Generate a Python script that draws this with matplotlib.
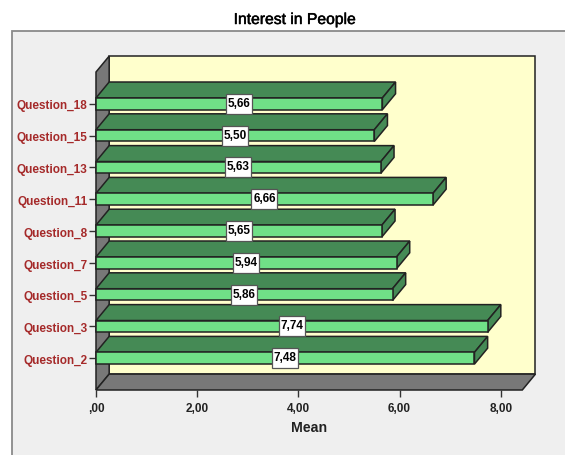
import matplotlib
matplotlib.use("Agg")
import matplotlib.pyplot as plt
import matplotlib.patheffects as pe
from matplotlib.patches import Rectangle
from matplotlib.transforms import ScaledTranslation

plt.rcParams['font.family'] = ['Liberation Sans', 'DejaVu Sans']

questions = ['Question_2', 'Question_3', 'Question_5', 'Question_7', 'Question_8',
             'Question_11', 'Question_13', 'Question_15', 'Question_18']
means = [7.48, 7.74, 5.86, 5.94, 5.65, 6.66, 5.63, 5.50, 5.66]
xticks = [0, 2, 4, 6, 8]
xticklabels = [',00', '2,00', '4,00', '6,00', '8,00']

W, H = 565, 455
EDGE = '#222222'
DX = 0.26   # depth of the 3d look, in data units
DY = 0.5
BAR_H = 0.37
BOX_W = 26 / 50.6   # value label box, 26x20 px
BOX_H = 20 / 31.8

fig = plt.figure(figsize=(W / 100, H / 100), dpi=100, facecolor='white')

# grey panel behind everything, runs off the bottom and right
fig.add_artist(Rectangle((11.5 / W, -0.05), 1.0, (H - 31) / H + 0.05, transform=fig.transFigure,
                         facecolor='#efefef', edgecolor='#8a8a8a', linewidth=1.3, zorder=-1))

# axes = the front plane of the box
ax = fig.add_axes([96 / W, (H - 390) / H, (522.3 - 96) / W, 318 / H])
ax.patch.set_visible(False)
xmax = (522.3 - 96) / 50.6
ax.set_xlim(0, xmax)
ax.set_ylim(0, 10)
for s in ax.spines.values():
    s.set_visible(False)


def poly(xs, ys, color, z):
    ax.fill(xs, ys, facecolor=color, edgecolor=EDGE, linewidth=1.1, zorder=z, clip_on=False)


# back wall, side wall, floor
poly([DX, xmax + DX, xmax + DX, DX], [DY, DY, 10 + DY, 10 + DY], '#ffffcc', 1)
poly([0, DX, DX, 0], [0, DY, 10 + DY, 10], '#787878', 1.1)
poly([0, xmax, xmax + DX, DX], [0, 0, DY, DY], '#787878', 1.2)

# bars, drawn from the top down so the lower ones overlap
for i in range(len(means) - 1, -1, -1):
    y = i + 1
    v = means[i]
    lo, hi = y - BAR_H / 2, y + BAR_H / 2
    z = 2 + (len(means) - i) * 0.1
    poly([0, v, v + DX, DX], [hi, hi, hi + DY, hi + DY], '#458a55', z)
    poly([v, v + DX, v + DX, v], [lo, lo + DY, hi + DY, hi], '#458a55', z)
    poly([0, v, v, 0], [lo, lo, hi, hi], '#70e087', z)

for i, v in enumerate(means):
    ax.add_patch(Rectangle((v / 2 - BOX_W / 2, i + 1 - BOX_H / 2), BOX_W, BOX_H, facecolor='white',
                           edgecolor='#555555', linewidth=0.9, zorder=5))
    ax.text(v / 2, i + 1, f'{v:.2f}'.replace('.', ','), ha='center', va='center', zorder=6,
            fontsize=8.5, fontweight='bold', color='black')

ax.set_yticks(range(1, len(questions) + 1))
ax.set_yticklabels(questions, fontsize=8.5, fontweight='bold', color='#a52a2a')
ax.set_xticks(xticks)
ax.set_xticklabels(xticklabels, fontsize=8.5, fontweight='bold', color='#222222')
ax.tick_params(axis='y', length=4.8, width=1, color='#333333', pad=1.5)
ax.tick_params(axis='x', length=4.8, width=1, color='#333333', pad=4.2)

# the question labels sit a pixel under their ticks
for lab in ax.get_yticklabels():
    lab.set_transform(lab.get_transform() + ScaledTranslation(0, -1.2 / 100, fig.dpi_scale_trans))

ax.set_xlabel('Mean', fontsize=10.2, fontweight='bold', color='#222222')
ax.xaxis.set_label_coords((309 - 96) / (522.3 - 96), -(428.5 - 390) / 318, transform=ax.transAxes)
ax.xaxis.label.set_va('center')

title = fig.text(295 / W, (H - 19.5) / H, 'Interest in People', ha='center', va='center',
                 fontsize=11.3, color='black')
title.set_path_effects([pe.withStroke(linewidth=0.35, foreground='black')])

fig.savefig('out.png', dpi=100)
